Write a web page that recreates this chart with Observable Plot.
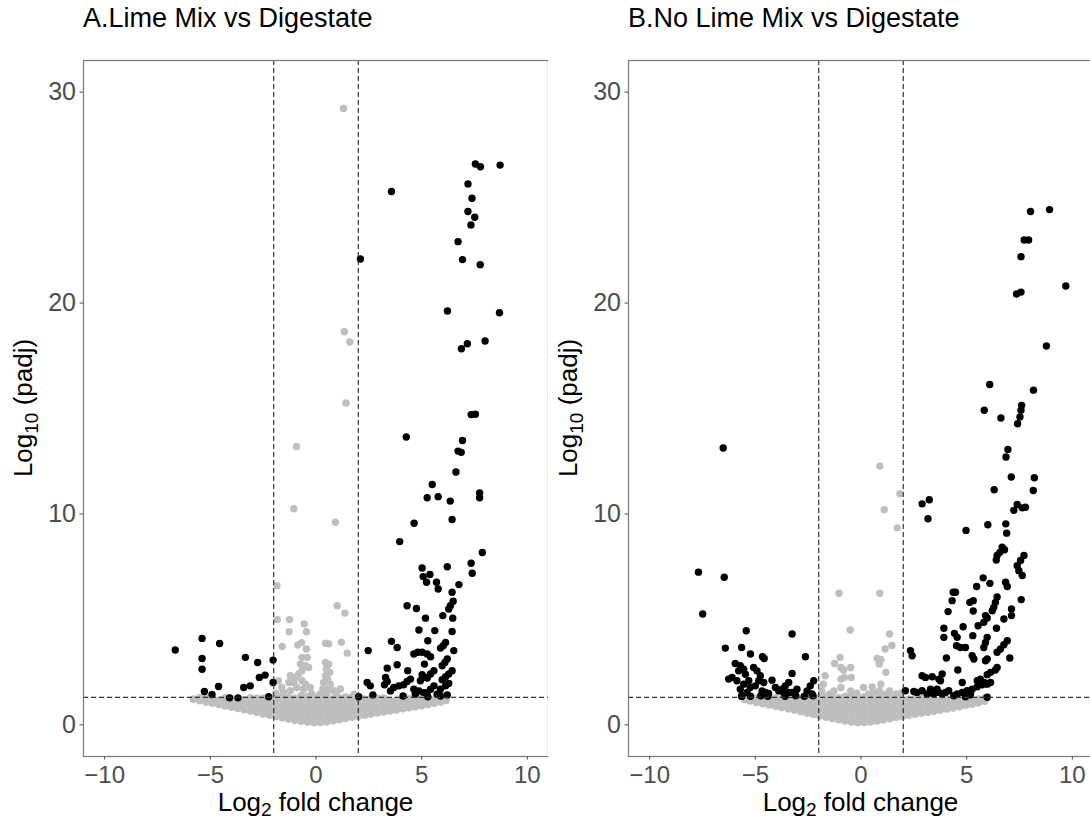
<!DOCTYPE html>
<html>
<head>
<meta charset="utf-8">
<script src="https://cdn.jsdelivr.net/npm/d3@7"></script>
<script src="https://cdn.jsdelivr.net/npm/@observablehq/plot@0.6"></script>
<style>
  html, body { margin: 0; padding: 0; background: #fff; }
  #wrap { position: relative; width: 1090px; height: 822px; overflow: hidden; font-family: "Liberation Sans", Arial, sans-serif; }
  .panel { position: absolute; top: 0; width: 548px; height: 822px; }
  .title { position: absolute; left: 83px; top: 3px; font-size: 27px; color: #000; white-space: nowrap; }
  .plot { position: absolute; left: 0; top: 40px; }
</style>
</head>
<body>
<div id="wrap">
  <div class="panel" id="pA" style="left:0px"><div class="title" id="tA"></div><div class="plot" id="plotA"></div></div>
  <div class="panel" id="pB" style="left:545px"><div class="title" id="tB"></div><div class="plot" id="plotB"></div></div>
</div>
<script>
// ---------------- data ----------------
const titles = ["A.Lime Mix vs Digestate", "B.No Lime Mix vs Digestate"];
const xTicks = [-10, -5, 0, 5, 10];
const yTicks = [0, 10, 20, 30];
const fcCut = [-2, 2];
const padjCut = [1.3];

// Panel A: significant (black) points [log2FC, -log10 padj]
const blackA = [
  [3.57,25.29],[7.54,26.59],[7.78,26.46],[8.71,26.54],[7.19,25.65],[7.38,24.97],[7.19,24.34],[7.51,24.07],
  [7.33,23.7],[6.72,22.91],[2.1,22.09],[6.93,22.06],[7.77,21.82],[6.22,19.62],[8.68,19.54],[7.16,18.07],
  [6.88,17.83],[8.0,18.2],
  [7.34,14.71],[7.54,14.73],[4.27,13.65],[6.93,13.48],[6.72,12.98],[6.87,12.92],[6.62,11.99],[5.5,11.4],
  [5.26,10.77],[5.78,10.82],[6.35,10.61],[7.74,11.0],[7.74,10.77],[6.44,9.74],[4.64,9.56],[3.96,8.69],[7.87,8.17],
  [5.02,7.44],[6.21,7.5],[7.34,7.66],[7.39,7.19],[5.07,7.03],[5.39,7.13],[5.23,6.76],[5.7,6.76],[5.78,6.44],
  [6.76,6.65],[6.44,6.29],[6.49,5.86],[6.36,5.65],[6.28,5.49],[4.31,5.65],[4.75,5.52],[6.0,5.18],[5.18,5.06],
  [6.47,5.06],[4.87,4.5],[5.62,4.47],[6.44,4.43],[5.29,3.99],[3.57,3.96],[3.84,3.67],[6.13,3.91],[6.02,3.75],
  [5.89,3.64],[6.52,3.52],[2.47,3.52],[4.63,3.36],[4.82,3.44],[5.02,3.44],[5.26,3.36],[5.42,3.23],[6.21,3.12],
  [6.1,2.96],[5.97,2.8],[5.13,2.88],[3.37,2.69],[3.84,2.85],[4.34,2.57],[5.58,2.57],[5.42,2.41],[5.26,2.22],
  [6.44,2.57],[6.28,2.41],[6.13,2.28],[5.97,2.14],[5.02,2.38],[5.18,2.25],[4.94,2.09],[6.28,1.96],[6.13,1.85],
  [5.89,1.69],[5.58,1.85],[5.42,1.69],[5.26,1.53],[4.47,2.17],[4.31,2.06],[4.15,1.9],[3.29,2.25],[3.37,2.06],
  [3.24,1.9],[2.42,2.01],[2.57,1.85],[3.92,1.85],[3.68,1.77],[3.52,1.61],[4.63,1.69],[4.87,1.61],[2.69,1.42],
  [4.12,1.37],[4.7,1.45],[5.1,1.53],[5.29,1.33],[6.21,1.42],[5.89,1.37],[5.73,1.45],[2.02,1.33],
  [-6.66,3.55],[-5.39,4.1],[-4.56,3.86],[-5.39,3.15],[-5.39,2.64],[-3.34,3.2],[-2.76,2.96],[-2.03,3.07],
  [-2.68,2.25],[-2.41,2.36],[-2.03,2.01],[-5.28,1.58],[-4.61,1.82],[-3.42,1.77],[-3.11,1.85],[-4.92,1.44],
  [-4.09,1.28],[-3.69,1.28],[-2.24,1.33]
];

// Panel A: non-significant points above the padj line (grey)
const greyHighA = [
  [1.30,29.23],[1.34,18.64],[1.6,18.15],[1.42,15.26],[-0.92,13.2],[-1.05,10.25],[0.92,9.61],[-1.85,6.6],
  [1.0,5.65],[1.37,5.3],[-1.83,4.99],[-1.25,4.99],[-0.56,4.78],[-1.27,4.42],[-0.45,4.42],[-1.6,3.72],
  [-0.86,3.79],[-0.68,3.9],[-0.46,3.6],[0.45,3.87],[0.6,3.84],[1.2,3.92],[1.48,3.4],
  [-0.66,3.2],[-0.42,3.2],[-0.74,2.88],[-0.5,2.8],[-0.35,2.72],[-0.66,2.57],[-0.82,2.41],[-0.98,2.25],
  [-1.21,2.33],[-1.29,2.01],[-1.05,2.01],[-0.66,2.09],[-0.5,1.93],[-0.58,1.7],[-0.9,1.77],[-0.27,1.77],
  [-1.21,1.62],[-1.53,1.54],[-0.19,1.46],[-1.78,2.09],[-1.62,1.77],[-1.55,1.46],
  [0.45,2.96],[0.6,2.88],[0.49,2.65],[0.65,2.49],[0.45,2.33],[0.55,2.17],[0.36,2.01],[0.68,1.93],
  [0.32,1.7],[0.6,1.7],[0.84,1.62],[0.2,1.46],[0.51,1.46],[1.15,1.7],[1.8,1.45],[-1.9,1.5],[0.95,1.45]
];

// Panel A: grey cloud below the padj line, columns of [log2FC, [-log10 padj ...]]
const cloudA = [
  [-5.8,[1.22]],[-5.5,[1.15,1.28]],[-5.2,[1.08,1.27]],[-4.9,[1.02,1.24]],[-4.6,[0.96,1.18]],
  [-4.3,[0.9,1.12,1.28]],[-4.0,[0.84,1.06,1.26]],[-3.7,[0.78,1.0,1.22]],[-3.4,[0.72,0.96,1.2]],
  [-3.1,[0.66,0.9,1.14,1.28]],[-2.8,[0.6,0.84,1.08,1.26]],[-2.5,[0.52,0.78,1.04,1.26]],
  [-2.2,[0.46,0.72,0.98,1.22]],[-1.9,[0.4,0.66,0.92,1.18,1.32]],[-1.6,[0.34,0.6,0.86,1.12,1.34]],
  [-1.3,[0.28,0.54,0.8,1.06,1.3]],[-1.0,[0.22,0.48,0.74,1.0,1.26]],[-0.7,[0.17,0.43,0.69,0.95,1.21,1.38]],
  [-0.4,[0.13,0.39,0.65,0.91,1.17,1.36]],[-0.1,[0.1,0.36,0.62,0.88,1.14,1.32]],
  [0.2,[0.11,0.37,0.63,0.89,1.15,1.34]],[0.5,[0.14,0.4,0.66,0.92,1.18,1.36]],[0.8,[0.19,0.45,0.71,0.97,1.23]],
  [1.1,[0.24,0.5,0.76,1.02,1.28]],[1.4,[0.3,0.56,0.82,1.08,1.32]],[1.7,[0.36,0.62,0.88,1.14,1.3]],
  [2.0,[0.41,0.67,0.93,1.19]],[2.3,[0.46,0.72,0.98,1.22]],[2.6,[0.51,0.77,1.03,1.25]],
  [2.9,[0.56,0.82,1.08,1.26]],[3.2,[0.61,0.86,1.11,1.27]],[3.5,[0.66,0.9,1.14]],[3.8,[0.71,0.94,1.17]],
  [4.1,[0.76,0.99,1.21]],[4.4,[0.81,1.03,1.24]],[4.7,[0.86,1.07,1.26]],[5.0,[0.91,1.11,1.27]],
  [5.3,[0.96,1.15,1.28]],[5.6,[1.02,1.2]],[5.9,[1.08,1.24]],[6.15,[1.16,1.28]]
];

// Panel B: significant (black) points
const blackB = [
  [8.02,24.34],[8.92,24.43],[7.72,22.99],[7.93,22.99],[7.57,22.2],[9.69,20.81],[7.36,20.43],[7.57,20.52],
  [8.77,17.96],[6.09,16.14],[8.16,15.87],
  [5.83,14.92],[6.62,14.55],[7.41,14.28],[7.52,14.6],[7.57,14.92],[7.6,15.15],[6.95,13.06],[6.86,12.7],
  [7.11,11.75],[8.2,11.72],[6.3,11.15],[8.15,11.11],
  [2.89,10.48],[3.23,10.67],[3.17,9.77],[4.97,9.22],[6.0,9.49],[6.85,9.53],[6.89,9.09],[7.39,10.45],
  [7.63,10.29],[7.78,10.32],[7.23,10.17],[6.68,8.42],[6.57,8.18],[6.44,8.03],[6.4,7.82],[6.79,8.3],
  [7.71,8.03],[7.55,7.79],[7.39,7.55],[7.47,7.31],[7.63,7.08],[5.78,6.97],[6.1,6.71],[5.47,6.56],
  [6.84,6.76],[6.92,6.56],[4.36,6.29],[4.47,6.29],[4.31,5.89],[5.15,5.81],[5.31,5.89],[5.31,5.4],
  [4.12,5.37],[6.44,6.06],[6.36,5.81],[6.28,5.57],[6.21,5.41],[7.12,5.49],[7.12,5.18],[7.58,5.94],
  [5.89,5.18],[5.97,5.07],[5.81,4.86],[6.76,5.02],[6.41,4.58],[5.54,4.7],[4.83,4.65],[3.92,4.58],
  [3.92,4.15],[4.42,4.34],[4.55,4.15],[5.29,4.23],[4.52,3.75],[4.71,3.67],[4.94,3.67],[5.89,3.91],
  [5.81,3.67],[5.97,4.15],[6.92,3.99],[6.76,3.8],[6.6,3.6],[6.44,3.44],[2.34,3.52],[2.42,3.28],
  [4.04,3.17],[5.26,3.28],[5.34,3.12],[5.89,3.04],[5.97,3.12],[7.04,3.17],[4.58,2.6],[6.44,2.72],
  [6.36,2.6],[5.97,2.38],[6.13,2.49],[2.89,2.33],[3.05,2.25],[3.37,2.28],[3.68,2.17],[3.84,2.41],
  [3.76,2.09],[4.79,2.01],[5.5,2.09],[5.65,2.17],[5.81,2.01],[5.97,1.93],[6.13,2.01],[2.1,1.62],
  [2.5,1.58],[2.89,1.62],[3.29,1.69],[3.44,1.46],[3.68,1.54],[4.0,1.54],[4.15,1.62],[4.55,1.46],
  [4.79,1.54],[5.02,1.62],[5.26,1.69],[5.5,1.81],[5.73,1.9],[5.94,1.96],[4.39,1.38],[4.94,1.33],
  [5.18,1.43],[5.97,1.31],[3.13,1.46],[2.65,1.54],[3.84,1.46],[3.6,1.69],
  [-7.69,7.24],[-6.47,7.0],[-7.49,5.26],[-6.52,13.13],[-5.43,4.46],[-6.42,3.64],[-3.26,4.31],[-2.63,3.23],
  [-5.65,3.67],[-5.23,3.36],[-4.66,3.23],[-4.58,3.15],
  [-5.95,2.91],[-5.71,2.8],[-5.79,2.56],[-5.55,2.64],[-5.47,2.4],[-5.08,2.72],[-4.92,2.56],[-4.76,2.33],
  [-4.84,2.09],[-4.6,2.01],[-5.0,1.85],[-5.24,1.77],[-5.39,1.54],[-5.63,1.38],[-5.87,2.09],[-6.1,2.25],
  [-6.26,2.17],[-3.42,2.01],[-3.58,1.85],[-3.74,1.69],[-3.89,1.61],[-4.05,1.77],[-2.24,2.09],[-2.4,1.85],
  [-2.55,1.61],[-2.32,1.46],[-3.03,1.69],[-3.26,1.54],[-3.42,1.54],[-3.66,1.54],[-4.68,1.61],[-4.52,1.54],
  [-4.37,1.49],[-5.71,1.69],[-5.55,1.93],[-5.31,2.09],[-4.21,2.12],[-3.26,2.44],
  [-5.65,1.35],[-5.23,1.36],[-4.74,1.38],[-4.41,1.36],[-3.59,1.36],[-3.09,1.38],[-2.68,1.36],[-2.27,1.38]
];

// Panel B: non-significant points above the padj line (grey)
const greyHighB = [
  [0.89,12.27],[1.84,10.96],[1.1,10.2],[1.71,9.34],[-1.04,6.24],[0.89,6.24],[-0.51,4.5],[1.35,4.31],
  [1.14,3.6],[1.46,3.76],[-0.99,3.2],[-0.95,2.72],[-0.82,2.6],[-1.25,2.91],[-0.49,2.72],[0.77,3.15],
  [0.94,3.1],[0.86,2.88],[1.18,2.49],[-1.7,2.33],[-0.95,2.17],[-0.79,2.25],[-0.46,2.25],[0.53,1.8],
  [0.94,1.93],[-1.78,1.93],[-1.86,1.61],[-1.28,1.61],[-0.95,1.77],[-0.49,1.61],[0.12,1.77],[0.36,1.46],
  [0.86,1.61],[1.35,1.61],[1.68,1.46],[-1.5,1.45],[-0.2,1.5],[0.6,1.5],[1.1,1.45],[1.9,1.5]
];

// Panel B: grey cloud below the padj line
const cloudB = [
  [-5.5,[1.2]],[-5.25,[1.13,1.28]],[-4.95,[1.06,1.26]],[-4.65,[1.0,1.22]],[-4.35,[0.94,1.16,1.28]],
  [-4.05,[0.88,1.1,1.27]],[-3.75,[0.82,1.04,1.24]],[-3.45,[0.76,0.99,1.21]],[-3.15,[0.7,0.94,1.17,1.28]],
  [-2.85,[0.63,0.88,1.12,1.27]],[-2.55,[0.56,0.82,1.07,1.26]],[-2.25,[0.49,0.75,1.01,1.24]],
  [-1.95,[0.42,0.68,0.94,1.2,1.32]],[-1.65,[0.36,0.62,0.88,1.14,1.33]],[-1.35,[0.3,0.56,0.82,1.08,1.3]],
  [-1.05,[0.24,0.5,0.76,1.02,1.28]],[-0.75,[0.18,0.44,0.7,0.96,1.22,1.36]],[-0.45,[0.14,0.4,0.66,0.92,1.18,1.35]],
  [-0.15,[0.1,0.36,0.62,0.88,1.14,1.32]],[0.15,[0.11,0.37,0.63,0.89,1.15,1.33]],
  [0.45,[0.14,0.4,0.66,0.92,1.18,1.36]],[0.75,[0.18,0.44,0.7,0.96,1.22,1.34]],[1.05,[0.23,0.49,0.75,1.01,1.27]],
  [1.35,[0.29,0.55,0.81,1.07,1.31]],[1.65,[0.35,0.61,0.87,1.13,1.3]],[1.95,[0.4,0.66,0.92,1.18]],
  [2.25,[0.45,0.71,0.97,1.21]],[2.55,[0.5,0.76,1.02,1.24]],[2.85,[0.55,0.81,1.07,1.26]],
  [3.15,[0.6,0.85,1.1,1.27]],[3.45,[0.65,0.89,1.13]],[3.75,[0.7,0.93,1.16]],[4.05,[0.75,0.98,1.2]],
  [4.35,[0.8,1.02,1.23]],[4.65,[0.86,1.07,1.26]],[4.95,[0.92,1.12,1.28]],[5.25,[0.98,1.17]],
  [5.55,[1.04,1.22]],[5.85,[1.12,1.27]]
];

// ---------------- drawing ----------------
const toRows = pairs => pairs.map(([x, y]) => ({x, y}));
const cloudRows = cols => cols.flatMap(([x, ys]) => ys.map(y => ({x, y})));

function panel(cloud, greyHigh, black) {
  const svg = Plot.plot({
    width: 548,
    height: 782,
    marginTop: 20,
    marginBottom: 66,
    marginLeft: 83,
    marginRight: 0,
    style: {fontFamily: '"Liberation Sans", Arial, sans-serif', fontSize: "24px", background: "transparent"},
    x: {domain: [-11, 11]},
    y: {domain: [-1.5, 31.5]},
    marks: [
      Plot.dot(cloudRows(cloud), {x: "x", y: "y", r: 3.8, fill: "#bebebe", stroke: null}),
      Plot.dot(toRows(greyHigh), {x: "x", y: "y", r: 3.7, fill: "#bebebe", stroke: null}),
      Plot.dot(toRows(black), {x: "x", y: "y", r: 3.7, fill: "#000000", stroke: null}),
      Plot.ruleX(fcCut, {stroke: "#333333", strokeWidth: 1.2, strokeDasharray: "5,3"}),
      Plot.ruleY(padjCut, {stroke: "#333333", strokeWidth: 1.2, strokeDasharray: "5,3"}),
      Plot.frame({stroke: "#7f7f7f", strokeWidth: 1.3}),
      Plot.axisX({ticks: xTicks, tickSize: 3.5, tickPadding: 6, fontSize: 24, color: "#4d4d4d", label: null}),
      Plot.axisY({ticks: yTicks, tickSize: 3.5, tickPadding: 4, fontSize: 25, color: "#4d4d4d", label: null})
    ]
  });
  const s = d3.select(svg);
  // x axis title with subscript
  const xt = s.append("text")
    .attr("x", 315.5).attr("y", 771)
    .attr("text-anchor", "middle")
    .attr("font-size", 26).attr("fill", "#000");
  xt.append("tspan").text("Log");
  xt.append("tspan").attr("font-size", 19).attr("dy", 5).text("2");
  xt.append("tspan").attr("dy", -5).text(" fold change");
  // y axis title with subscript
  const yt = s.append("text")
    .attr("transform", "translate(32,368) rotate(-90)")
    .attr("text-anchor", "middle")
    .attr("font-size", 26).attr("fill", "#000");
  yt.append("tspan").text("Log");
  yt.append("tspan").attr("font-size", 19).attr("dy", 6).text("10");
  yt.append("tspan").attr("dy", -6).text(" (padj)");
  return svg;
}

document.getElementById("tA").textContent = titles[0];
document.getElementById("tB").textContent = titles[1];
document.getElementById("plotA").appendChild(panel(cloudA, greyHighA, blackA));
document.getElementById("plotB").appendChild(panel(cloudB, greyHighB, blackB));
</script>
</body>
</html>
